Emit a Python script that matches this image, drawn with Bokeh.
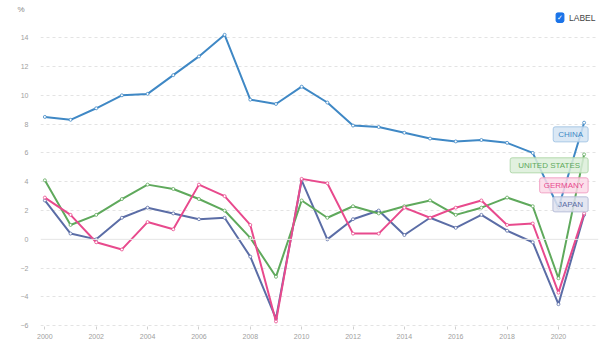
from bokeh.plotting import figure
from bokeh.models import Label, Span, FixedTicker, Range1d
from bokeh.embed import file_html
from bokeh.resources import INLINE

years = list(range(2000, 2022))
china = [8.5, 8.3, 9.1, 10.0, 10.1, 11.4, 12.7, 14.2, 9.7, 9.4, 10.6, 9.5, 7.9, 7.8, 7.4, 7.0, 6.8, 6.9, 6.7, 6.0, 2.2, 8.1]
usa = [4.1, 1.0, 1.7, 2.8, 3.8, 3.5, 2.8, 2.0, 0.1, -2.6, 2.7, 1.5, 2.3, 1.8, 2.3, 2.7, 1.7, 2.2, 2.9, 2.3, -2.7, 5.9]
germany = [2.9, 1.7, -0.2, -0.7, 1.2, 0.7, 3.8, 3.0, 1.0, -5.7, 4.2, 3.9, 0.4, 0.4, 2.2, 1.5, 2.2, 2.7, 1.0, 1.1, -3.7, 1.8]
japan = [2.7, 0.4, 0.0, 1.5, 2.2, 1.8, 1.4, 1.5, -1.2, -5.5, 4.1, 0.0, 1.4, 2.0, 0.3, 1.5, 0.8, 1.7, 0.6, -0.2, -4.5, 1.7]

series_names = ["JAPAN", "UNITED STATES", "GERMANY", "CHINA"]
y_ticks = [-6, -4, -2, 0, 2, 4, 6, 8, 10, 12, 14]
x_ticks = list(range(2000, 2022, 2))

# label placement (data units of the y axis)
label_y = {"CHINA": 7.29, "UNITED STATES": 5.14, "GERMANY": 3.75, "JAPAN": 2.43}

styles = {
    "CHINA": dict(line="#3f88c5", fill="#d4e4f3", border="#a8c8e6", pad=5),
    "UNITED STATES": dict(line="#5fa95c", fill="#dcefd9", border="#b3d9ad", pad=8),
    "GERMANY": dict(line="#e84a8d", fill="#fbd9e8", border="#f2a3c6", pad=4),
    "JAPAN": dict(line="#5b6da6", fill="#dfe2ef", border="#b7bdd8", pad=5),
}
values = {"CHINA": china, "UNITED STATES": usa, "GERMANY": germany, "JAPAN": japan}

FONT = "Liberation Sans"
TOP = 12  # frame top in canvas px

p = figure(width=600, height=360, output_backend="svg", toolbar_location=None,
           x_range=Range1d(1999.83, 2021.56), y_range=Range1d(-6.05, 15.75),
           min_border_left=40, min_border_right=2, min_border_top=TOP, min_border_bottom=34,
           title="%", title_location="above")
p.outline_line_color = None
p.background_fill_color = "white"
p.border_fill_color = "white"
p.title.align = "left"
p.title.offset = -23
p.title.standoff = -3
p.title.text_font = FONT
p.title.text_font_size = "8px"
p.title.text_font_style = "normal"
p.title.text_color = "#888888"
p.title.vertical_align = "bottom"

p.xgrid.grid_line_color = None
p.ygrid.grid_line_color = "#e3e3e3"
p.ygrid.grid_line_dash = "3 3"
p.ygrid.ticker = FixedTicker(ticks=[t for t in y_ticks if t != 0])
p.add_layout(Span(location=0, dimension="width", line_color="#e6e6e6", line_width=1))

p.yaxis.ticker = FixedTicker(ticks=y_ticks)
p.yaxis.axis_line_color = None
p.yaxis.major_tick_line_color = None
p.yaxis.minor_tick_line_color = None
p.yaxis.major_label_standoff = 6
p.yaxis.major_label_text_color = "#a0a0a0"
p.yaxis.major_label_text_font_size = "7px"
p.yaxis.major_label_text_font = FONT

p.xaxis.ticker = FixedTicker(ticks=x_ticks)
p.xaxis.axis_line_color = None
p.xaxis.major_tick_line_color = "#d0d0d0"
p.xaxis.major_tick_out = 3
p.xaxis.major_tick_in = 0
p.xaxis.minor_tick_line_color = None
p.xaxis.major_label_standoff = 4
p.xaxis.major_label_text_color = "#a0a0a0"
p.xaxis.major_label_text_font_size = "7px"
p.xaxis.major_label_text_font = FONT

for name in series_names:
    st = styles[name]
    p.line(years, values[name], line_color=st["line"], line_width=2)
    p.scatter(years, values[name], size=3, fill_color="white", line_color=st["line"], line_width=0.8)

for name in series_names:
    st = styles[name]
    p.add_layout(Label(x=2021, y=label_y[name], text=name, text_align="right", text_baseline="middle",
                       x_offset=4, text_font=FONT, text_font_size="8px", text_color=st["line"],
                       background_fill_color=st["fill"], background_fill_alpha=0.85,
                       border_line_color=st["border"], border_line_width=1,
                       padding=(st["pad"], 3), border_radius=2))

# checkbox legend (canvas pixel positions)
p.add_layout(Label(x=559.5, y=17, x_units="canvas", y_units="canvas", text="✓", text_align="center",
                   text_baseline="middle", text_font="DejaVu Sans", text_font_size="7px", text_color="white",
                   background_fill_color="#1a73e8", border_line_color="#1a73e8",
                   padding=1, border_radius=2))
p.add_layout(Label(x=568.5, y=17, x_units="canvas", y_units="canvas", text="LABEL", text_align="left",
                   text_baseline="middle", text_font=FONT, text_font_size="8.5px", text_color="#444444"))

open("out.html", "w").write(file_html(p, INLINE))
